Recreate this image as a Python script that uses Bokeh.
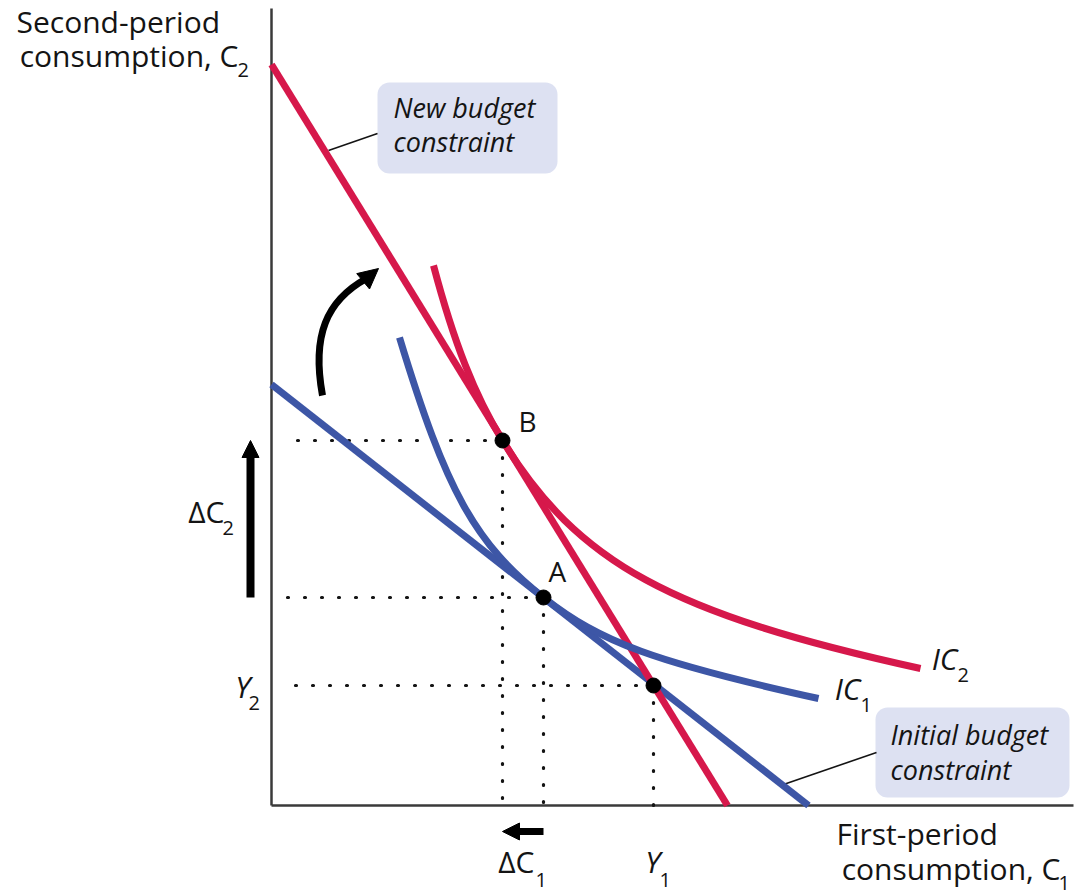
from bokeh.plotting import figure
from bokeh.models import Range1d, Arrow, NormalHead
from bokeh.core.properties import value
from bokeh.embed import file_html
from bokeh.resources import INLINE

# ---------------- data (origin = axes corner) ----------------
axis_c1_max = 802
axis_c2_max = 797

endowment_c1 = [382]          # Y1
endowment_c2 = [120]          # Y2
point_names = ["A", "B"]
point_c1 = [272, 231]
point_c2 = [208, 365]

initial_budget_c1 = [0, 537]
initial_budget_c2 = [421, 0]
new_budget_c1 = [0, 456]
new_budget_c2 = [741, 0]

# indifference curves, as cubic Bezier pieces joined at the tangency points
ic1_x0 = [128, 272]
ic1_y0 = [468, 208]
ic1_cx0 = [174.6, 328.8]
ic1_cy0 = [314.2, 163.2]
ic1_cx1 = [203.4, 383.8]
ic1_cy1 = [262.2, 143.0]
ic1_x1 = [272, 547]
ic1_y1 = [208, 107]

ic2_x0 = [162, 231]
ic2_y0 = [540, 365]
ic2_cx0 = [182.2, 306.5]
ic2_cy0 = [463.7, 242.3]
ic2_cx1 = [202.9, 398.5]
ic2_cy1 = [410.6, 192.1]
ic2_x1 = [231, 649]
ic2_y1 = [365, 137]

RED = "#d6184b"
BLUE = "#3d56a6"
BOX = "#dde1f2"
INK = "#141414"
FONT = value("Open Sans")

p = figure(width=1082, height=894,
           x_range=Range1d(-271, 811), y_range=Range1d(-89, 805),
           output_backend="svg", toolbar_location=None,
           x_axis_type=None, y_axis_type=None, min_border=0)
p.title.visible = False
p.grid.visible = False
p.outline_line_color = None
p.background_fill_color = "white"

# axes
p.line([0, 0], [0, axis_c2_max], line_color="#3a3a3a", line_width=2.5)
p.line([0, axis_c1_max], [0, 0], line_color="#3a3a3a", line_width=2.5)

# label boxes
p.quad(left=[106], right=[286], bottom=[632], top=[723], fill_color=BOX,
       line_color=None, border_radius=12)
p.quad(left=[604], right=[798], bottom=[8], top=[98], fill_color=BOX,
       line_color=None, border_radius=12)

# leader lines
p.line([57, 106], [655, 672], line_color=INK, line_width=1.6)
p.line([512, 605], [21, 53], line_color=INK, line_width=1.6)

# dotted guide lines
guide_c1 = endowment_c1 + point_c1
guide_c2 = endowment_c2 + point_c2
p.segment(x0=guide_c1, y0=guide_c2, x1=[14] * 3, y1=guide_c2,
          line_color=INK, line_width=3.2, line_dash="1 16", line_cap="round")
p.segment(x0=guide_c1, y0=guide_c2, x1=guide_c1, y1=[0] * 3,
          line_color=INK, line_width=3.2, line_dash="1 16", line_cap="round")

# budget lines
p.line(initial_budget_c1, initial_budget_c2, line_color=BLUE, line_width=7)
p.line(new_budget_c1, new_budget_c2, line_color=RED, line_width=7)

# indifference curves
p.bezier(x0=ic1_x0, y0=ic1_y0, x1=ic1_x1, y1=ic1_y1, cx0=ic1_cx0, cy0=ic1_cy0,
         cx1=ic1_cx1, cy1=ic1_cy1, line_color=BLUE, line_width=7)
p.bezier(x0=ic2_x0, y0=ic2_y0, x1=ic2_x1, y1=ic2_y1, cx0=ic2_cx0, cy0=ic2_cy0,
         cx1=ic2_cx1, cy1=ic2_cy1, line_color=RED, line_width=7)

# points
p.scatter(guide_c1, guide_c2, size=15, fill_color="black", line_color="black")

# curved arrow
p.bezier(x0=[51], y0=[410], cx0=[40], cy0=[470], cx1=[55], cy1=[505],
         x1=[95], y1=[527], line_color="black", line_width=7)
p.add_layout(Arrow(x_start=92, y_start=524.5, x_end=107, y_end=537,
                   line_color="black", line_width=7,
                   end=NormalHead(size=20, fill_color="black", line_color="black")))

# delta arrows
p.add_layout(Arrow(x_start=-21, y_start=point_c2[0], x_end=-21, y_end=point_c2[1],
                   line_color="black", line_width=8,
                   end=NormalHead(size=17, fill_color="black", line_color="black")))
p.add_layout(Arrow(x_start=point_c1[0], y_start=-26, x_end=point_c1[1], y_end=-26,
                   line_color="black", line_width=7,
                   end=NormalHead(size=17, fill_color="black", line_color="black")))

# ---------------- texts ----------------
def txt(x, y, s, size, align="left", style="normal"):
    px = float(size.replace("px", ""))
    p.text(x=[x], y=[y + 0.4 * px], text=[s], text_font=FONT, text_font_size=size,
           text_align=align, text_baseline="alphabetic", text_color=INK,
           text_font_style=style)

# axis titles
txt(-255, 772, "Second-period", "30px")
txt(-33, 738, "consumption, C", "30px", align="right")
txt(-34, 728, "2", "20px")
txt(565, -40, "First-period", "30px")
txt(789, -75, "consumption, C", "30px", align="right")
txt(787, -85, "1", "20px")

# box texts
txt(122, 687, "New budget", "27px", style="italic")
txt(122, 653, "constraint", "27px", style="italic")
txt(619, 60, "Initial budget", "27px", style="italic")
txt(619, 25, "constraint", "27px", style="italic")

# curve labels
txt(686, 135, "IC", "30px", align="right", style="italic")
txt(686, 123, "2", "20px")
txt(589, 105, "IC", "30px", align="right", style="italic")
txt(589, 93, "1", "20px")

# point labels
txt(277, 223, point_names[0], "28px")
txt(247, 373, point_names[1], "28px")

# tick-like labels
txt(-21, 107, "Y", "30px", align="right", style="italic")
txt(-23, 95, "2", "20px")
txt(389, -68, "Y", "30px", align="right", style="italic")
txt(388, -82, "1", "20px")
txt(-47, 282, "\u0394C", "30px", align="right")
txt(-49, 270, "2", "20px")
txt(263, -68, "\u0394C", "30px", align="right")
txt(264, -82, "1", "20px")

open("out.html", "w").write(file_html(p, INLINE))
